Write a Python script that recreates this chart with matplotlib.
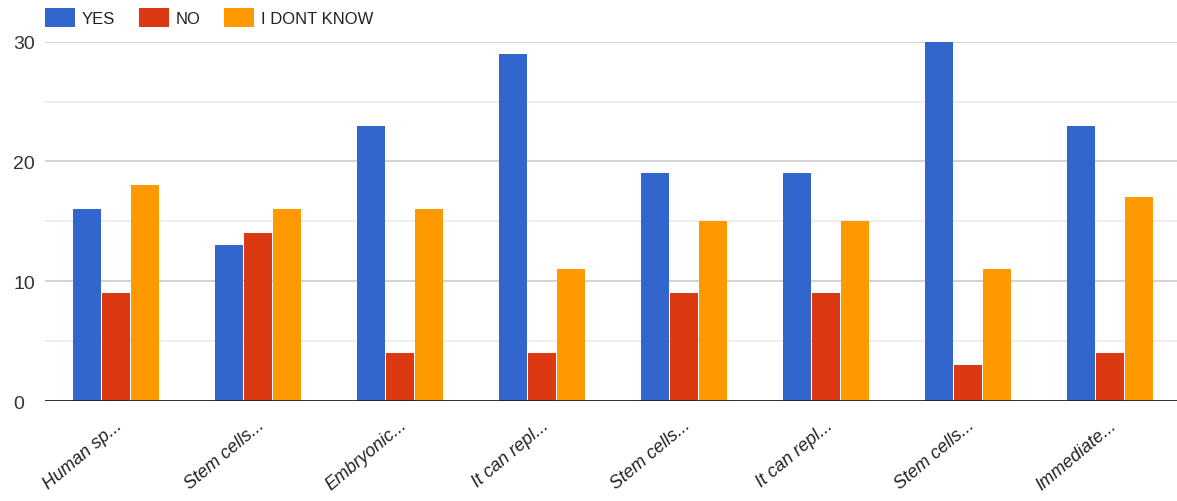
import numpy as np
import matplotlib
matplotlib.use("Agg")
import matplotlib.pyplot as plt
from matplotlib.patches import Patch

plt.rcParams['font.family'] = ['Liberation Sans', 'DejaVu Sans']

categories = ["Human sp...", "Stem cells...", "Embryonic...", "It can repl...",
              "Stem cells...", "It can repl...", "Stem cells...", "Immediate..."]
series_names = ["YES", "NO", "I DONT KNOW"]
yes_vals = [16, 13, 23, 29, 19, 19, 30, 23]
no_vals = [9, 14, 4, 4, 9, 9, 3, 4]
idk_vals = [18, 16, 16, 11, 15, 15, 11, 17]
colors = ["#3366cc", "#dc3912", "#ff9900"]

fig = plt.figure(figsize=(11.77, 5.02), dpi=100)
ax = fig.add_axes([45 / 1177, 0.199, 1136 / 1177, 0.716])

x = np.arange(len(categories))
width = 0.198
step = 0.205
for k, vals in enumerate([yes_vals, no_vals, idk_vals]):
    ax.bar(x + (k - 1) * step, vals, width, color=colors[k], label=series_names[k], zorder=3)

ax.set_xlim(-0.5, len(categories) - 0.5)
ax.set_ylim(0, 30)

# gridlines
ax.set_yticks([0, 10, 20, 30])
ax.set_yticks([5, 15, 25], minor=True)
ax.grid(axis='y', which='major', color='#cccccc', linewidth=1.2, zorder=0)
ax.grid(axis='y', which='minor', color='#ebebeb', linewidth=1.2, zorder=0)
ax.axhline(0, color='#222222', linewidth=2, zorder=4)

for s in ax.spines.values():
    s.set_visible(False)
ax.tick_params(axis='both', which='both', length=0)
ax.tick_params(axis='y', pad=23, labelsize=14, labelcolor='#333333')
for lbl in ax.get_yticklabels():
    lbl.set_horizontalalignment('left')

ax.set_xticks([])
for i, name in enumerate(categories):
    ax.text(i + 0.03, -1.8, name, rotation=40, ha='right', va='center',
            rotation_mode='anchor', fontsize=13, style='italic', color='#222222')

handles = [Patch(facecolor=c, edgecolor='none') for c in colors]
fig.legend(handles, series_names, loc='upper left', bbox_to_anchor=(45 / 1177, 1 - 9 / 502),
           ncol=3, frameon=False, fontsize=12, handlelength=1.8, handleheight=1.4,
           handletextpad=0.42, columnspacing=1.4, borderpad=0, borderaxespad=0,
           labelcolor='#222222')

fig.savefig("out.png", dpi=100)
